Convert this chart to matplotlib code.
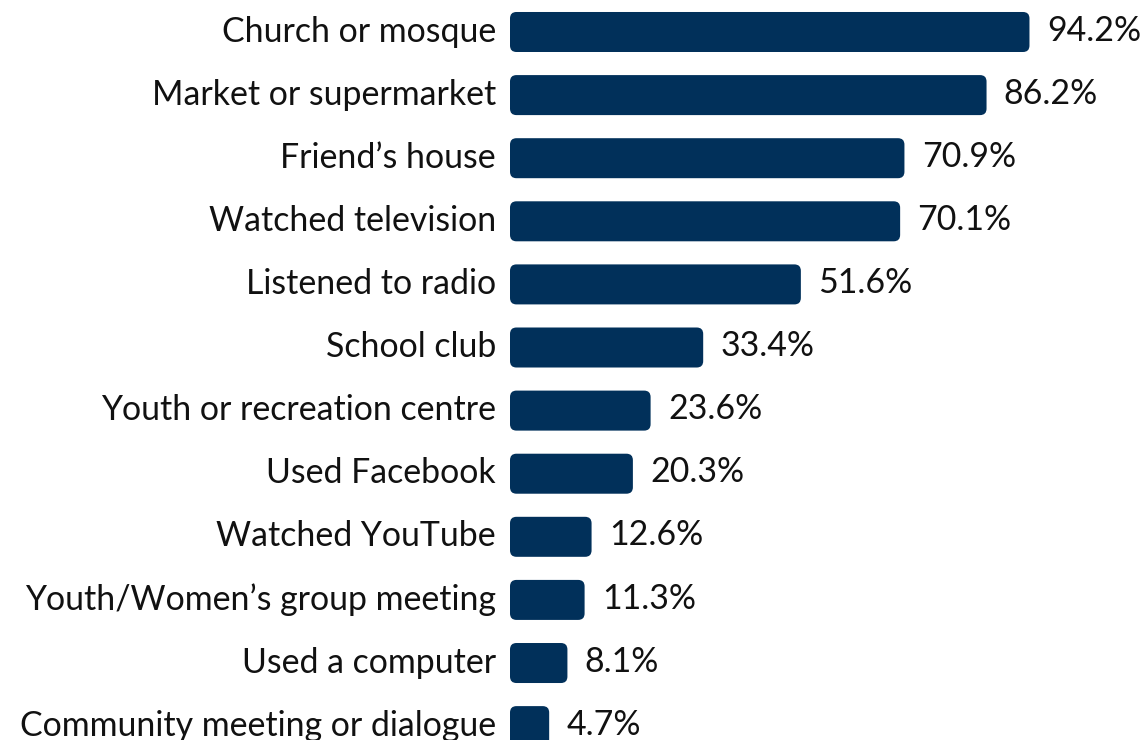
import matplotlib.pyplot as plt
from matplotlib.patches import FancyBboxPatch
from matplotlib.transforms import ScaledTranslation

activities = [
    "Church or mosque",
    "Market or supermarket",
    "Friend\u2019s house",
    "Watched television",
    "Listened to radio",
    "School club",
    "Youth or recreation centre",
    "Used Facebook",
    "Watched YouTube",
    "Youth/Women\u2019s group meeting",
    "Used a computer",
    "Community meeting or dialogue",
]
shares = [94.2, 86.2, 70.9, 70.1, 51.6, 33.4, 23.6, 20.3, 12.6, 11.3, 8.1, 4.7]

navy = "#01305a"
plt.rcParams['font.family'] = ['Lato', 'DejaVu Sans']
fsize = 24.4

fig = plt.figure(figsize=(11.47, 7.4), dpi=100)
ax = fig.add_axes([510 / 1147, 0, 1 - 510 / 1147, 1])
ax.set_xlim(0, 118.7)
ax.set_ylim(11.22, -0.507)

# rounded bars: pad in x units, scaled to y units through mutation_aspect
pad = 1.3
aspect = 0.111 / 1.3
inner_h = 0.412
for i, v in enumerate(shares):
    box = FancyBboxPatch((pad, i - inner_h / 2), v, inner_h,
                         boxstyle=f"round,pad={pad},rounding_size=1.2",
                         mutation_aspect=aspect, fc=navy, ec="none")
    ax.add_patch(box)
    ax.annotate(f"{v}%", (v, i), xytext=(22.5, 1), textcoords="offset points",
                va="center", ha="left", fontsize=fsize, color="#111111")

ax.set_yticks(range(len(activities)))
ax.set_yticklabels(activities, fontsize=fsize, color="#111111")
ax.tick_params(axis="y", length=0, pad=10)
nudge = ScaledTranslation(0, 2.5 / 72, fig.dpi_scale_trans)
for lab in ax.get_yticklabels():
    lab.set_transform(lab.get_transform() + nudge)
ax.set_xticks([])
for s in ax.spines.values():
    s.set_visible(False)

fig.savefig("out.png", dpi=100)
